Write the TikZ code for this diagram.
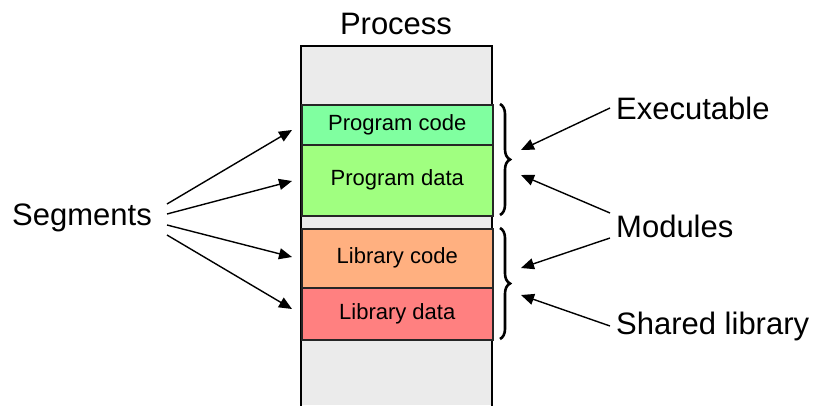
\documentclass[tikz,border=0pt]{standalone}
\usepackage{fontspec}
\setmainfont{Liberation Sans}
\usetikzlibrary{arrows.meta,decorations.pathreplacing}
\definecolor{procgray}{HTML}{EBEBEB}
\definecolor{pcode}{HTML}{80FFA0}
\definecolor{pdata}{HTML}{A0FF80}
\definecolor{lcode}{HTML}{FFB080}
\definecolor{ldata}{HTML}{FF8080}
\tikzset{
  seg/.style={draw=black!85, line width=1.5pt, minimum width=191pt, inner sep=0pt,
    anchor=north west, font=\fontsize{22}{24}\selectfont},
  biglabel/.style={font=\fontsize{31}{34}\selectfont, inner sep=0pt},
  arr/.style={line width=1.4pt, -{Triangle[length=13pt,width=11pt]}},
  curly/.style={line width=2.6pt, decorate,
    decoration={brace, amplitude=10pt, raise=0pt}},
}
\begin{document}
\begin{tikzpicture}[x=1pt, y=-1pt]
  \useasboundingbox (0,0) rectangle (814,405);
  % process address space
  \fill[procgray] (301,46) rectangle (492,405);
  \draw[line width=2pt] (301,406) -- (301,46) -- (492,46) -- (492,406);
  \node[biglabel] (proc) at (396,24) {Process};
  % segments
  \node[seg, fill=pcode, minimum height=40pt] (pc) at (301,104) {Program code};
  \node[seg, fill=pdata, minimum height=71pt] (pd) at (301,144) {Program data};
  \node[seg, fill=lcode, minimum height=59pt] (lc) at (301,228) {Library code};
  \node[seg, fill=ldata, minimum height=52pt] (ld) at (301,287) {Library data};
  % braces
  \draw[curly] (500,104) -- (500,215) coordinate[midway] (b1mid);
  \draw[curly] (500,228) -- (500,339) coordinate[midway] (b2mid);
  % labels
  \node[biglabel] (segs) at (82,218) {Segments};
  \node[biglabel, anchor=west] (exe) at (616,108) {Executable};
  \node[biglabel, anchor=west] (mods) at (616,226) {Modules};
  \node[biglabel, anchor=west] (shl) at (616,326) {Shared library};
  % arrow ends
  \coordinate (s1) at (167,204); \coordinate (t1) at (292,130);
  \coordinate (s2) at (167,214); \coordinate (t2) at (292,181);
  \coordinate (s3) at (167,225); \coordinate (t3) at (292,257);
  \coordinate (s4) at (167,235); \coordinate (t4) at (292,309);
  \coordinate (r1) at (610,108); \coordinate (e1) at (521,150);
  \coordinate (r2) at (610,213); \coordinate (e2) at (521,175);
  \coordinate (r3) at (610,238); \coordinate (e3) at (521,268);
  \coordinate (r4) at (610,326); \coordinate (e4) at (521,295);
  \draw[arr] (s1) -- (t1);
  \draw[arr] (s2) -- (t2);
  \draw[arr] (s3) -- (t3);
  \draw[arr] (s4) -- (t4);
  \draw[arr] (r1) -- (e1);
  \draw[arr] (r2) -- (e2);
  \draw[arr] (r3) -- (e3);
  \draw[arr] (r4) -- (e4);
\end{tikzpicture}
\end{document}
